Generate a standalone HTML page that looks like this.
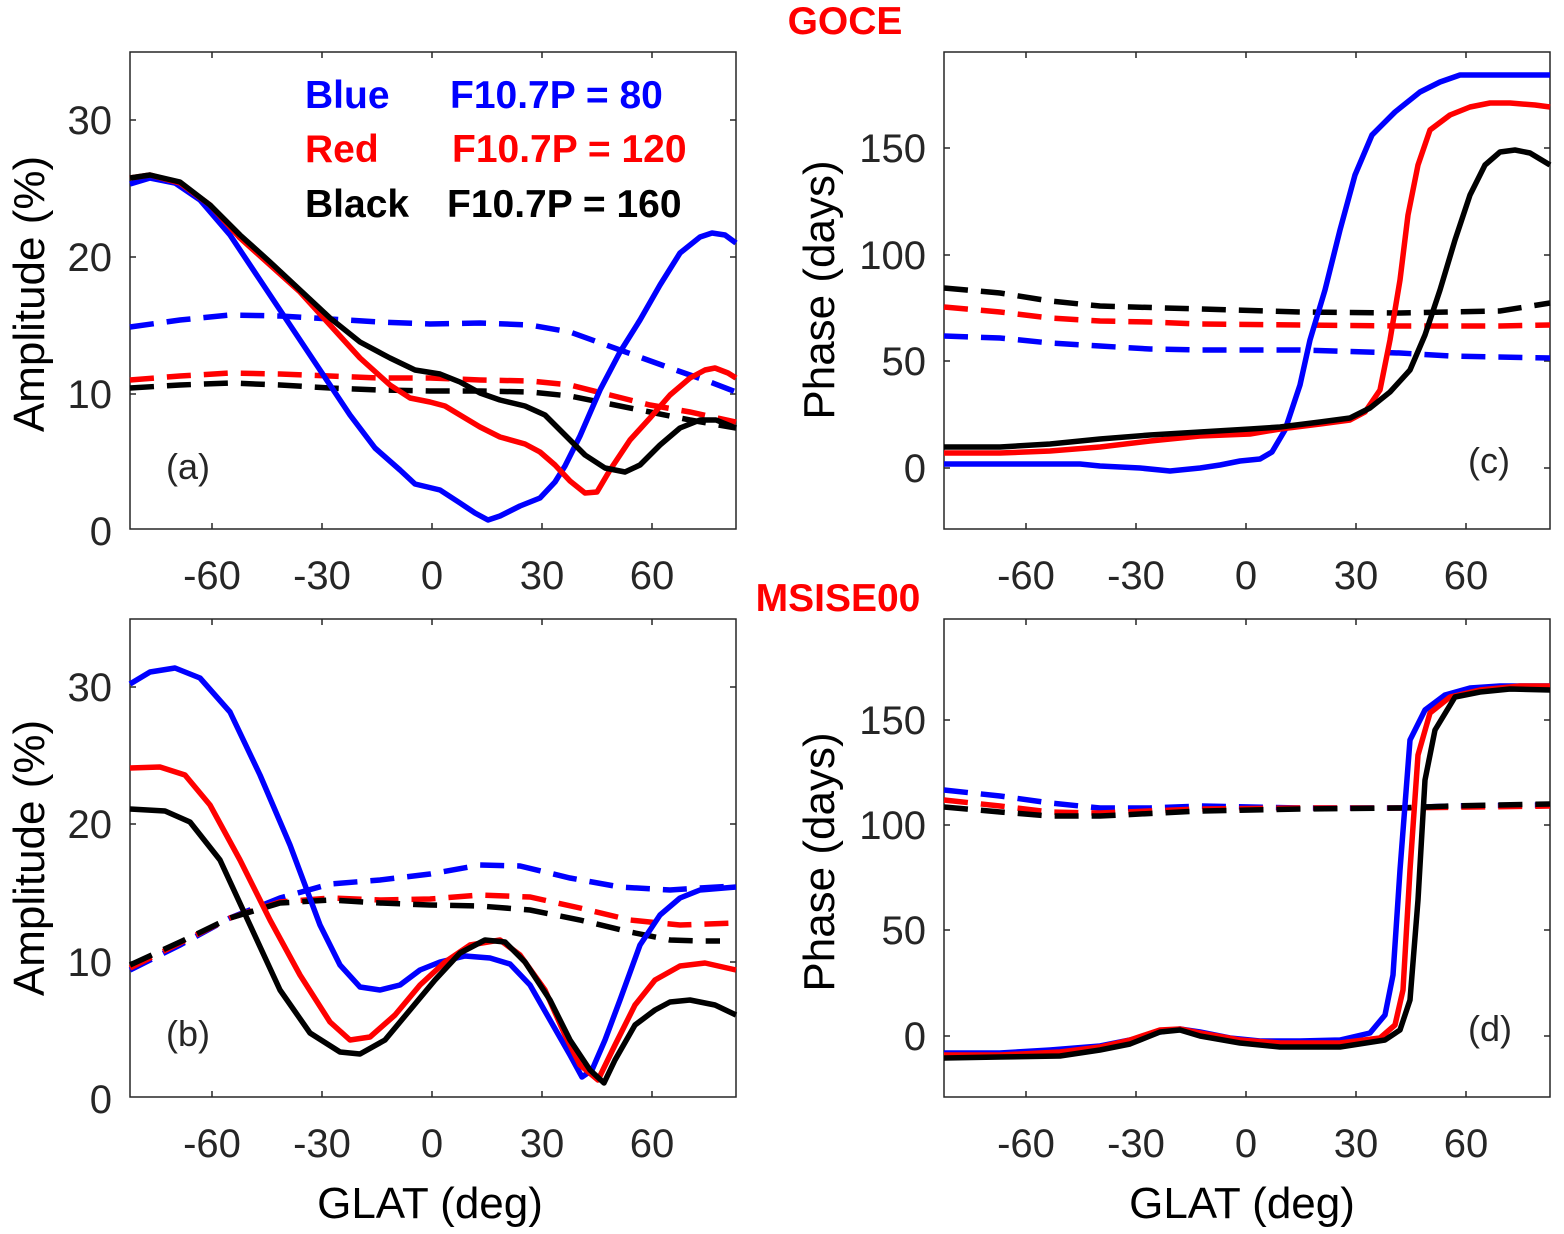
<!DOCTYPE html>
<html><head><meta charset="utf-8"><style>
body{margin:0;background:#fff}
svg{display:block;font-family:"Liberation Sans",sans-serif}
.s{fill:none;stroke-width:5.5;stroke-linejoin:round;stroke-linecap:butt}
.d{fill:none;stroke-width:5.5;stroke-dasharray:24 13}
.t{font-size:40px;fill:#262626}
.ax{font-size:44px;fill:#000}
.lg{font-size:39px;font-weight:bold}
</style></head><body>
<svg width="1564" height="1234" viewBox="0 0 1564 1234">
<g stroke="#262626" stroke-width="1.5" fill="none">
<rect x="130" y="52" width="606" height="477"/>
<rect x="944" y="52" width="606" height="477"/>
<rect x="130" y="619" width="606" height="478"/>
<rect x="944" y="619" width="606" height="478"/>
<path d="M212 529v-6M322 529v-6M432 529v-6M542 529v-6M652 529v-6M212 52v6M322 52v6M432 52v6M542 52v6M652 52v6
M130 394h6M130 257h6M130 120h6M736 394h-6M736 257h-6M736 120h-6
M1026 529v-6M1136 529v-6M1246 529v-6M1356 529v-6M1466 529v-6M1026 52v6M1136 52v6M1246 52v6M1356 52v6M1466 52v6
M944 468h6M944 361h6M944 255h6M944 148h6M1550 468h-6M1550 361h-6M1550 255h-6M1550 148h-6
M212 1097v-6M322 1097v-6M432 1097v-6M542 1097v-6M652 1097v-6M212 619v6M322 619v6M432 619v6M542 619v6M652 619v6
M130 962h6M130 824h6M130 687h6M736 962h-6M736 824h-6M736 687h-6
M1026 1097v-6M1136 1097v-6M1246 1097v-6M1356 1097v-6M1466 1097v-6M1026 619v6M1136 619v6M1246 619v6M1356 619v6M1466 619v6
M944 1036h6M944 930h6M944 825h6M944 720h6M1550 1036h-6M1550 930h-6M1550 825h-6M1550 720h-6"/>
</g>
<g class="t" text-anchor="middle">
<text x="212" y="589">-60</text><text x="322" y="589">-30</text><text x="432" y="589">0</text><text x="542" y="589">30</text><text x="652" y="589">60</text>
<text x="1026" y="589">-60</text><text x="1136" y="589">-30</text><text x="1246" y="589">0</text><text x="1356" y="589">30</text><text x="1466" y="589">60</text>
<text x="212" y="1157">-60</text><text x="322" y="1157">-30</text><text x="432" y="1157">0</text><text x="542" y="1157">30</text><text x="652" y="1157">60</text>
<text x="1026" y="1157">-60</text><text x="1136" y="1157">-30</text><text x="1246" y="1157">0</text><text x="1356" y="1157">30</text><text x="1466" y="1157">60</text>
</g>
<g class="t" text-anchor="end">
<text x="112" y="545">0</text><text x="112" y="408">10</text><text x="112" y="271">20</text><text x="112" y="134">30</text>
<text x="926" y="482">0</text><text x="926" y="375">50</text><text x="926" y="269">100</text><text x="926" y="162">150</text>
<text x="112" y="1113">0</text><text x="112" y="976">10</text><text x="112" y="838">20</text><text x="112" y="701">30</text>
<text x="926" y="1050">0</text><text x="926" y="944">50</text><text x="926" y="839">100</text><text x="926" y="734">150</text>
</g>
<g class="ax" text-anchor="middle">
<text transform="translate(44,294) rotate(-90)">Amplitude (%)</text>
<text transform="translate(834,290) rotate(-90)">Phase (days)</text>
<text transform="translate(44,858) rotate(-90)">Amplitude (%)</text>
<text transform="translate(834,862) rotate(-90)">Phase (days)</text>
<text x="430" y="1218">GLAT (deg)</text>
<text x="1242" y="1218">GLAT (deg)</text>
</g>
<g class="t" style="font-size:36px">
<text x="166" y="479">(a)</text><text x="1468" y="473">(c)</text>
<text x="166" y="1046">(b)</text><text x="1468" y="1041">(d)</text>
</g>
<text x="845" y="34" text-anchor="middle" class="lg" fill="#f00">GOCE</text>
<text x="838" y="611" text-anchor="middle" class="lg" fill="#f00">MSISE00</text>
<text x="305" y="108" class="lg" fill="#00f">Blue</text><text x="450" y="108" class="lg" fill="#00f">F10.7P = 80</text>
<text x="305" y="162" class="lg" fill="#f00">Red</text><text x="452" y="162" class="lg" fill="#f00">F10.7P = 120</text>
<text x="305" y="217" class="lg" fill="#000">Black</text><text x="447" y="217" class="lg" fill="#000">F10.7P = 160</text>

<polyline class="d" stroke="#00f" points="130,327 180,320 230,315 280,316 330,319 380,322 430,324 480,323 530,325 570,332 620,350 670,368 710,382 736,392"/>
<polyline class="d" stroke="#f00" points="130,380 180,376 230,373 280,374 330,376 380,378 430,378 480,380 530,381 570,385 610,395 650,405 690,412 736,422"/>
<polyline class="d" stroke="#000" points="130,388 180,385 230,383 280,385 330,388 380,390 430,391 480,391 530,392 570,396 610,404 650,412 690,420 736,428"/>
<polyline class="s" stroke="#00f" points="130,184 150,178 175,183 200,200 230,235 260,280 290,325 320,370 350,415 375,448 400,470 415,484 440,490 460,503 475,513 488,520 500,516 520,506 540,498 555,482 565,466 580,436 600,390 620,352 640,320 660,285 680,253 700,237 712,233 725,235 736,243"/>
<polyline class="s" stroke="#f00" points="130,178 150,175 180,183 210,205 240,238 270,265 300,292 330,325 360,358 390,385 410,398 430,402 445,406 460,415 480,427 500,437 525,444 540,452 555,465 570,481 585,493 597,492 610,470 630,440 650,418 670,395 690,378 705,370 715,368 728,373 736,378"/>
<polyline class="s" stroke="#000" points="130,178 150,175 180,182 210,205 240,235 270,262 300,290 330,318 360,342 390,358 415,370 440,374 460,382 480,393 500,400 525,406 545,415 565,435 585,455 605,468 625,472 640,465 660,445 680,428 700,420 716,420 736,428"/>

<polyline class="d" stroke="#00f" points="944,336 1000,338 1050,343 1100,346 1150,349 1200,350 1300,350 1400,353 1450,356 1550,358"/>
<polyline class="d" stroke="#f00" points="944,307 1000,312 1050,318 1100,321 1150,322 1200,324 1300,325 1400,326 1500,326 1550,325"/>
<polyline class="d" stroke="#000" points="944,288 1000,293 1050,301 1100,306 1200,309 1300,312 1400,313 1500,311 1550,303"/>
<polyline class="s" stroke="#00f" points="944,464 1000,464 1080,464 1100,466 1140,468 1170,471 1200,468 1220,465 1240,461 1260,459 1272,452 1285,430 1300,385 1310,340 1325,290 1340,230 1355,175 1372,135 1395,112 1420,92 1440,82 1460,75 1480,75 1550,75"/>
<polyline class="s" stroke="#f00" points="944,453 1000,453 1050,451 1100,447 1150,441 1200,436 1250,434 1280,429 1320,424 1350,420 1365,412 1380,390 1390,340 1400,280 1408,215 1418,165 1430,130 1450,115 1470,107 1490,103 1510,103 1535,105 1550,107"/>
<polyline class="s" stroke="#000" points="944,447 1000,447 1050,444 1100,439 1150,435 1200,432 1250,429 1280,427 1320,422 1350,418 1370,408 1390,392 1410,370 1425,335 1440,290 1455,240 1470,195 1485,165 1500,152 1515,150 1530,153 1550,165"/>

<polyline class="d" stroke="#00f" points="130,970 180,945 230,918 280,898 330,884 380,880 430,874 480,865 520,866 570,878 620,887 670,890 700,888 736,886"/>
<polyline class="d" stroke="#f00" points="130,968 180,943 230,918 280,902 330,898 380,900 430,899 480,895 530,897 580,908 630,920 680,925 736,923"/>
<polyline class="d" stroke="#000" points="130,965 180,942 230,918 280,903 330,900 380,903 430,905 480,906 530,910 580,920 630,932 670,940 700,941 720,941"/>
<polyline class="s" stroke="#00f" points="130,684 150,672 175,668 200,678 230,712 260,775 290,845 320,925 340,965 360,987 380,990 400,985 420,970 440,962 465,956 490,958 510,964 530,985 550,1020 570,1055 582,1077 592,1070 605,1040 620,1000 640,945 660,915 680,898 700,890 736,887"/>
<polyline class="s" stroke="#f00" points="130,768 160,767 185,775 210,805 240,860 270,920 300,975 330,1022 350,1040 370,1037 395,1015 420,985 445,962 470,945 500,940 520,955 545,990 565,1035 580,1065 598,1080 615,1045 635,1005 655,980 680,966 705,963 736,970"/>
<polyline class="s" stroke="#000" points="130,809 165,811 190,822 220,860 250,925 280,990 310,1033 340,1052 360,1054 385,1040 410,1010 435,980 460,953 485,940 505,942 525,962 550,1000 570,1040 590,1070 604,1083 615,1060 635,1025 655,1010 670,1002 690,1000 715,1005 736,1015"/>

<polyline class="d" stroke="#00f" points="944,790 1000,796 1050,803 1100,808 1150,808 1200,806 1300,808 1400,808 1450,806 1550,805"/>
<polyline class="d" stroke="#f00" points="944,800 1000,806 1050,812 1100,813 1200,809 1300,808 1400,808 1550,806"/>
<polyline class="d" stroke="#000" points="944,807 1000,812 1050,816 1100,816 1200,811 1300,809 1400,808 1450,806 1550,804"/>
<polyline class="s" stroke="#00f" points="944,1053 1000,1053 1050,1050 1100,1046 1130,1040 1160,1032 1180,1029 1200,1032 1230,1038 1260,1041 1300,1041 1340,1040 1370,1033 1385,1015 1393,975 1400,870 1410,740 1425,710 1445,695 1470,688 1500,686 1550,686"/>
<polyline class="s" stroke="#f00" points="944,1055 1000,1055 1060,1052 1100,1047 1130,1040 1160,1030 1180,1029 1200,1033 1240,1040 1280,1043 1340,1043 1380,1038 1395,1025 1403,990 1410,870 1418,755 1430,713 1450,697 1480,690 1520,686 1550,686"/>
<polyline class="s" stroke="#000" points="944,1058 1000,1057 1060,1056 1100,1050 1130,1044 1160,1032 1180,1030 1200,1036 1240,1043 1280,1047 1340,1047 1385,1040 1400,1030 1410,1000 1418,900 1425,780 1435,730 1455,697 1480,692 1510,689 1550,690"/>
</svg>
</body></html>
